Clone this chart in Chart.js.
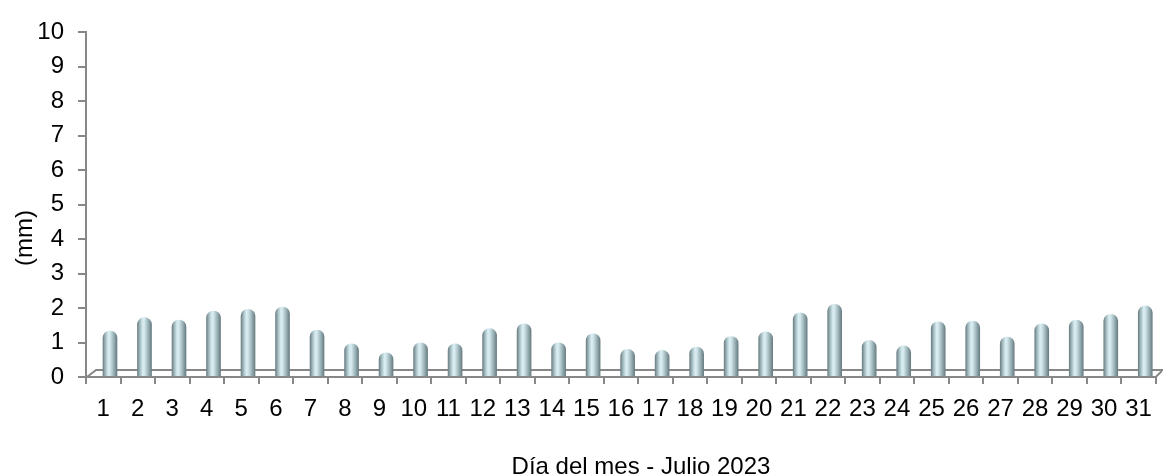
<!DOCTYPE html>
<html>
<head>
<meta charset="utf-8">
<script src="https://cdn.jsdelivr.net/npm/chart.js@4/dist/chart.umd.min.js"></script>
<style>
html,body{margin:0;padding:0;background:#fff;}
#wrap{width:1163px;height:476px;position:relative;}
</style>
</head>
<body>
<div id="wrap"><canvas id="c"></canvas></div>
<script>
const dias = ['1','2','3','4','5','6','7','8','9','10','11','12','13','14','15','16','17','18','19','20','21','22','23','24','25','26','27','28','29','30','31'];
const lluvia = [1.33,1.72,1.65,1.91,1.96,2.03,1.36,0.96,0.70,0.99,0.96,1.40,1.54,0.99,1.25,0.80,0.77,0.87,1.17,1.31,1.86,2.11,1.06,0.90,1.60,1.62,1.16,1.54,1.65,1.82,2.06];
const yTicks = [0,1,2,3,4,5,6,7,8,9,10];
const yTitle = '(mm)';
const xTitle = 'Día del mes - Julio 2023';

const FONT = "'Liberation Sans', Arial, sans-serif";
const AXIS = '#878787';
const DEPTH_SHIFT = 0.195; // 3D depth offset of bars, in categories

const points = dias.map((d, i) => ({x: i + 1, y: lluvia[i]}));

function barFill(ctx) {
  const chart = ctx.chart;
  if (!chart.chartArea) return '#a9c0c5';
  const xs = chart.scales.x;
  const cx = xs.getPixelForValue(ctx.dataIndex + 1);
  const g = chart.ctx.createLinearGradient(cx - 7, 0, cx + 7, 0);
  g.addColorStop(0, '#6c8085');
  g.addColorStop(0.18, '#a4bcc1');
  g.addColorStop(0.38, '#d9eef2');
  g.addColorStop(0.5, '#d2e7eb');
  g.addColorStop(0.8, '#93abb0');
  g.addColorStop(1, '#687d82');
  return g;
}

const floorPlugin = {
  id: 'floor',
  beforeDatasetsDraw(chart) {
    const c = chart.ctx, a = chart.chartArea;
    const yb = a.bottom - 7;
    c.save();
    c.strokeStyle = AXIS; c.lineWidth = 2;
    c.beginPath();
    c.moveTo(a.left + 1, a.bottom);
    c.lineTo(a.left + 10, yb);
    c.lineTo(1163, yb);
    c.stroke();
    c.restore();
  },
  afterDatasetsDraw(chart) {
    const c = chart.ctx, a = chart.chartArea;
    c.save();
    c.strokeStyle = AXIS; c.lineWidth = 2;
    c.beginPath();
    c.moveTo(a.left, a.bottom);
    c.lineTo(a.right, a.bottom);
    c.lineTo(a.right + 6, a.bottom - 6);
    c.stroke();
    c.restore();
  },
  afterDraw(chart) {
    const c = chart.ctx;
    c.save();
    c.font = '24px ' + FONT;
    c.fillStyle = '#000';
    c.textAlign = 'center';
    c.textBaseline = 'middle';
    c.fillText(xTitle, 641, 467);
    c.translate(25, 238);
    c.rotate(-Math.PI / 2);
    c.fillText(yTitle, 0, 0);
    c.restore();
  }
};

new Chart(document.getElementById('c'), {
  type: 'bar',
  data: {
    datasets: [{
      data: points,
      xAxisID: 'x',
      yAxisID: 'y',
      backgroundColor: barFill,
      borderWidth: 0,
      borderRadius: {topLeft: 7, topRight: 7, bottomLeft: 0, bottomRight: 0},
      borderSkipped: 'bottom',
      barThickness: 14
    }]
  },
  options: {
    responsive: true,
    maintainAspectRatio: false,
    animation: false,
    layout: {padding: {top: 32, right: 4, left: 0, bottom: 0}},
    plugins: {legend: {display: false}, tooltip: {enabled: false}},
    scales: {
      x: {
        type: 'linear',
        display: false,
        offset: false,
        min: 0.5 - DEPTH_SHIFT,
        max: dias.length + 0.5 - DEPTH_SHIFT
      },
      xc: {
        type: 'category',
        labels: dias,
        position: 'bottom',
        offset: true,
        afterFit(s) { s.height = 99; },
        grid: {offset: true, drawOnChartArea: false, color: AXIS, lineWidth: 2, tickLength: 7},
        border: {display: true, color: AXIS, width: 2},
        ticks: {color: '#000', font: {family: FONT, size: 24}, padding: 11, maxRotation: 0, autoSkip: false}
      },
      y: {
        min: 0, max: 10,
        afterFit(s) { s.width = 86; },
        afterBuildTicks(s) { s.ticks = yTicks.map(v => ({value: v})); },
        grid: {drawOnChartArea: false, color: AXIS, lineWidth: 2, tickLength: 8},
        border: {display: true, color: AXIS, width: 2},
        ticks: {color: '#000', font: {family: FONT, size: 24}, padding: 14}
      }
    }
  },
  plugins: [floorPlugin]
});
</script>
</body>
</html>
